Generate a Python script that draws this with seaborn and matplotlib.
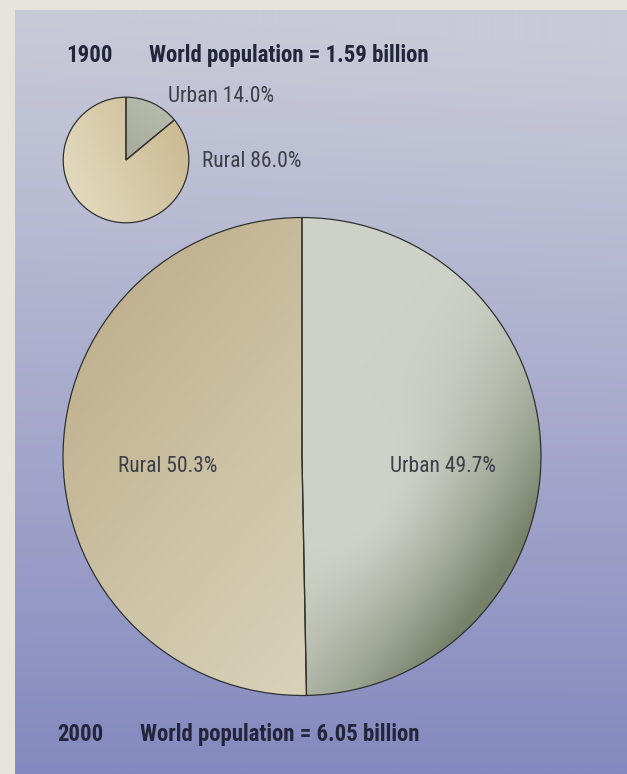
import numpy as np
import matplotlib
matplotlib.use("Agg")
import matplotlib.pyplot as plt
from matplotlib import font_manager as fm
from matplotlib.colors import to_rgb
import seaborn as sns

# ---------------- data ----------------
years = ["1900", "2000"]
populations = [1.59, 6.05]          # billions
categories = ["Urban", "Rural"]
share_1900 = [14.0, 86.0]
share_2000 = [49.7, 50.3]

sns.set_theme(style="white")
names = {f.name for f in fm.fontManager.ttflist}
family = "DejaVu Sans"
for cand in ["Liberation Sans Narrow", "Roboto Condensed", "DejaVu Sans Condensed",
             "Open Sans Condensed", "Liberation Sans"]:
    if cand in names:
        family = cand
        break
plt.rcParams["font.family"] = [family, "DejaVu Sans"]

W, H = 627, 774
fig = plt.figure(figsize=(W / 100, H / 100), dpi=100, facecolor="#e4e4da")
ax = fig.add_axes([0, 0, 1, 1])
ax.set_facecolor("#e4e4da")


def Y(y):
    return H - y


def lerp(c0, c1, t):
    c0 = np.array(to_rgb(c0)); c1 = np.array(to_rgb(c1))
    t = np.clip(t, 0, 1)[..., None]
    return c0 * (1 - t) + c1 * t


# ---------------- background panel gradient ----------------
ph = H - 10
yy = np.linspace(0, 1, ph)[:, None] * np.ones((1, 40))
xx = np.ones((ph, 1)) * np.linspace(0, 1, 40)[None, :]
bg = lerp("#c8cad8", "#8489bf", yy ** 1.1 - 0.04 * xx * (1 - yy))
ax.imshow(bg, extent=(15, W, 0, Y(10)), origin="upper", aspect="auto",
          zorder=0, interpolation="bilinear")

k = 39.5  # pixel radius per billion people
edge = "#2f3130"


def draw_pie(cx, cy, pop, shares, grad_funcs):
    r = k * pop
    wedges, _ = ax.pie(shares, startangle=90, counterclock=False,
                       center=(cx, Y(cy)), radius=r,
                       wedgeprops=dict(linewidth=0.9, edgecolor=edge),
                       colors=["#c9ccc0", "#d6c9a6"])
    n = 300
    gx, gy = np.meshgrid(np.linspace(cx - r, cx + r, n), np.linspace(cy - r, cy + r, n))
    for w, f in zip(wedges, grad_funcs):
        img = f((gx - cx) / r, (gy - cy) / r)
        im = ax.imshow(img, extent=(cx - r, cx + r, Y(cy + r), Y(cy - r)),
                       origin="upper", zorder=2, interpolation="bilinear")
        im.set_clip_path(w)
        w.set_facecolor("none")
        w.set_zorder(4)
    return r


# gradient functions: u,v normalized coords (v downwards)
def urban_small(u, v):
    t = 0.6 + 0.4 * v - 0.3 * u
    return lerp("#b8bdaf", "#9a9f8c", t)


def rural_small(u, v):
    t = 0.45 + 0.45 * u - 0.2 * v
    return lerp("#e1d8bc", "#cbb991", t)


def urban_big(u, v):
    rr = np.sqrt(u ** 2 + v ** 2)
    th = np.arctan2(v, u)
    w = np.clip(np.cos(th - np.deg2rad(35)), 0, 1) ** 2
    t = w * np.clip((rr - 0.4) / 0.6, 0, 1) ** 1.4
    return lerp("#ced1c7", "#76826a", t * 1.1)


def rural_big(u, v):
    t = 0.62 * (v + 1) / 2 + 0.38 * (u + 1) / 1.0
    t = np.clip(t, 0, 1)
    return lerp("#b8a580", "#d8d2b9", t ** 0.8)


draw_pie(126, 160, populations[0], share_1900, [urban_small, rural_small])
draw_pie(302, 456.5, populations[1], share_2000, [urban_big, rural_big])

ax.set_xlim(0, W)
ax.set_ylim(0, H)
ax.set_aspect("auto")
ax.axis("off")

# ---------------- text ----------------
title_c = "#23253b"
label_c = "#3c3e48"
fs_t = 16.4
fs_l = 15.5

ax.text(66, Y(62), years[0], fontsize=fs_t, fontweight="bold", color=title_c,
        ha="left", va="baseline", zorder=6)
ax.text(149, Y(62), f"World population = {populations[0]:.2f} billion", fontsize=fs_t,
        fontweight="bold", color=title_c, ha="left", va="baseline", zorder=6)
ax.text(57, Y(741), years[1], fontsize=fs_t, fontweight="bold", color=title_c,
        ha="left", va="baseline", zorder=6)
ax.text(140, Y(741), f"World population = {populations[1]:.2f} billion", fontsize=fs_t,
        fontweight="bold", color=title_c, ha="left", va="baseline", zorder=6)

ax.text(168, Y(102), f"{categories[0]} {share_1900[0]:.1f}%", fontsize=fs_l,
        color=label_c, ha="left", va="baseline", zorder=6)
ax.text(202, Y(167), f"{categories[1]} {share_1900[1]:.1f}%", fontsize=fs_l,
        color=label_c, ha="left", va="baseline", zorder=6)
ax.text(118, Y(472), f"{categories[1]} {share_2000[1]:.1f}%", fontsize=fs_l,
        color=label_c, ha="left", va="baseline", zorder=6)
ax.text(390, Y(472), f"{categories[0]} {share_2000[0]:.1f}%", fontsize=fs_l,
        color=label_c, ha="left", va="baseline", zorder=6)

fig.savefig("out.png", dpi=100, facecolor=fig.get_facecolor())
